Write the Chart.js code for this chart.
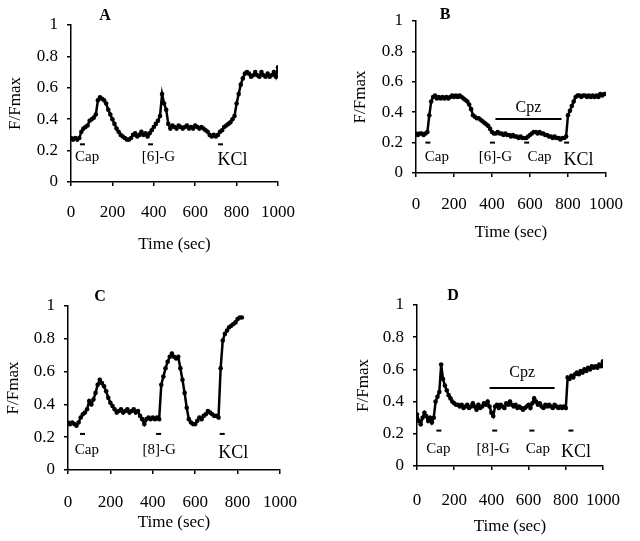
<!DOCTYPE html>
<html>
<head>
<meta charset="utf-8">
<style>
  html, body { margin: 0; padding: 0; background: #fff; }
  #wrap { position: relative; width: 640px; height: 541px; }
  canvas { position: absolute; }
</style>
</head>
<body>
<div id="wrap">
  <canvas id="chartA" width="320" height="270" style="left:0;top:0"></canvas>
  <canvas id="chartB" width="320" height="270" style="left:320px;top:0"></canvas>
  <canvas id="chartC" width="320" height="271" style="left:0;top:270px"></canvas>
  <canvas id="chartD" width="320" height="271" style="left:320px;top:270px"></canvas>
</div>

<script src="https://cdn.jsdelivr.net/npm/chart.js"></script>

<script>
  // sample times (sec), shared by all panels
  const secs = [0,10,20,30,40,50,60,70,80,90,100,110,120,130,140,150,160,170,180,190,
    200,210,220,230,240,250,260,270,280,290,300,310,320,330,340,350,360,370,380,390,
    400,410,420,430,440,450,460,470,480,490,500,510,520,530,540,550,560,570,580,590,
    600,610,620,630,640,650,660,670,680,690,700,710,720,730,740,750,760,770,780,790,
    800,810,820,830,840,850,860,870,880,890,900,910,920,930,940,950,960,970,980,990,1000];

  const xTicks = [0, 200, 400, 600, 800, 1000];
  const yTicks = ['0', '0.2', '0.4', '0.6', '0.8', '1'];

  // F/Fmax traces
  const fluoA = [0.28,0.27,0.28,0.27,0.28,0.32,0.34,0.35,0.36,0.39,0.40,0.41,0.43,0.52,0.54,0.53,0.52,0.50,0.46,0.43,
    0.40,0.37,0.34,0.32,0.30,0.29,0.28,0.27,0.27,0.28,0.30,0.31,0.29,0.30,0.32,0.30,0.31,0.29,0.31,0.33,
    0.35,0.37,0.39,0.42,0.56,0.50,0.46,0.37,0.34,0.36,0.35,0.34,0.36,0.35,0.34,0.35,0.36,0.34,0.35,0.34,
    0.36,0.35,0.34,0.35,0.34,0.33,0.32,0.30,0.29,0.30,0.29,0.30,0.32,0.33,0.35,0.36,0.37,0.38,0.40,0.42,
    0.50,0.56,0.62,0.66,0.69,0.70,0.69,0.67,0.68,0.70,0.68,0.67,0.70,0.68,0.67,0.69,0.67,0.68,0.70,0.67,0.73];

  const fluoB = [0.26,0.25,0.26,0.26,0.25,0.26,0.27,0.38,0.47,0.50,0.51,0.49,0.50,0.49,0.50,0.49,0.50,0.49,0.50,0.51,
    0.50,0.51,0.50,0.51,0.50,0.49,0.48,0.47,0.45,0.42,0.38,0.37,0.36,0.36,0.35,0.34,0.33,0.32,0.31,0.29,
    0.27,0.26,0.26,0.27,0.26,0.26,0.25,0.26,0.25,0.25,0.24,0.25,0.24,0.24,0.23,0.24,0.23,0.23,0.23,0.24,
    0.25,0.26,0.27,0.27,0.26,0.27,0.26,0.26,0.25,0.25,0.24,0.24,0.23,0.24,0.23,0.23,0.22,0.23,0.23,0.24,
    0.38,0.41,0.44,0.47,0.50,0.51,0.51,0.50,0.51,0.51,0.50,0.51,0.50,0.51,0.50,0.51,0.50,0.52,0.51,0.52,0.52];

  const fluoC = [0.29,0.28,0.29,0.28,0.27,0.29,0.32,0.34,0.35,0.37,0.42,0.40,0.43,0.47,0.52,0.55,0.53,0.51,0.48,0.44,
    0.41,0.39,0.37,0.35,0.36,0.37,0.35,0.36,0.37,0.35,0.36,0.37,0.35,0.36,0.33,0.31,0.28,0.31,0.32,0.31,
    0.32,0.31,0.32,0.31,0.52,0.57,0.62,0.66,0.69,0.71,0.69,0.68,0.69,0.62,0.55,0.47,0.38,0.31,0.29,0.28,
    0.28,0.30,0.32,0.31,0.33,0.34,0.36,0.35,0.34,0.33,0.33,0.32,0.62,0.79,0.83,0.85,0.87,0.88,0.89,0.90,
    0.92,0.93,0.93];

  const fluoD = [0.32,0.28,0.26,0.30,0.33,0.31,0.28,0.30,0.27,0.30,0.40,0.43,0.46,0.63,0.54,0.50,0.47,0.44,0.42,0.40,
    0.39,0.38,0.38,0.37,0.38,0.36,0.37,0.38,0.36,0.37,0.39,0.37,0.35,0.38,0.36,0.37,0.39,0.38,0.40,0.37,
    0.33,0.31,0.37,0.38,0.36,0.38,0.37,0.36,0.39,0.38,0.40,0.38,0.37,0.38,0.36,0.37,0.36,0.35,0.36,0.37,
    0.38,0.36,0.39,0.42,0.40,0.38,0.39,0.37,0.36,0.38,0.37,0.38,0.37,0.36,0.38,0.37,0.36,0.37,0.36,0.37,
    0.36,0.55,0.54,0.56,0.55,0.57,0.58,0.57,0.59,0.58,0.60,0.59,0.61,0.60,0.62,0.61,0.62,0.61,0.63,0.62,0.65];

  // stimulus marks: name, time of the dash, time of the label centre
  const stimNameA = ['Cap', '[6]-G', 'KCl'];
  const stimTimeA = [53, 382, 720];
  const labelTimeA = [78, 422, 780];

  const stimNameB = ['Cap', '[6]-G', 'Cap', 'KCl'];
  const stimTimeB = [60, 400, 580, 790];
  const labelTimeB = [110, 418, 650, 855];

  const stimNameC = ['Cap', '[8]-G', 'KCl'];
  const stimTimeC = [66, 425, 725];
  const labelTimeC = [89, 430, 780];

  const stimNameD = ['Cap', '[8]-G', 'Cap', 'KCl'];
  const stimTimeD = [115, 415, 615, 825];
  const labelTimeD = [115, 410, 650, 855];

  // Cpz bar: [start, end] in sec
  const cpzSpanB = [418, 766];
  const cpzSpanD = [390, 740];

  const panels = [
    { canvas: 'chartA', letter: 'A', letterAt: [105, 16], values: fluoA,
      names: stimNameA, times: stimTimeA, labelTimes: labelTimeA,
      dashLevel: 0.24, labelLevel: 0.16, cpz: null,
      pad: { left: 5, right: 42, top: 25, bottom: 15 }, yW: 66, xH: 73, xPad: 16 },
    { canvas: 'chartB', letter: 'B', letterAt: [125, 15], values: fluoB,
      names: stimNameB, times: stimTimeB, labelTimes: labelTimeB,
      dashLevel: 0.2, labelLevel: 0.105, cpz: { span: cpzSpanB, level: 0.355, textLevel: 0.43 },
      pad: { left: 30, right: 23, top: 21, bottom: 27 }, yW: 66, xH: 70, xPad: 17 },
    { canvas: 'chartC', letter: 'C', letterAt: [100, 27], values: fluoC,
      names: stimNameC, times: stimTimeC, labelTimes: labelTimeC,
      dashLevel: 0.22, labelLevel: 0.12, cpz: null,
      pad: { left: 3, right: 40, top: 36, bottom: 8 }, yW: 65, xH: 63, xPad: 18 },
    { canvas: 'chartD', letter: 'D', letterAt: [133, 26], values: fluoD,
      names: stimNameD, times: stimTimeD, labelTimes: labelTimeD,
      dashLevel: 0.22, labelLevel: 0.105, cpz: { span: cpzSpanD, level: 0.485, textLevel: 0.58 },
      pad: { left: 33, right: 23, top: 35, bottom: 4 }, yW: 64, xH: 71, xPad: 20 }
  ];

  const serif = '"Liberation Serif", "DejaVu Serif", serif';

  // draws the stimulus dashes, their labels, the Cpz bar and the panel letter
  const marksPlugin = {
    id: 'marks',
    afterDatasetsDraw(chart) {
      const p = chart.options.plugins.marks.panel;
      const xs = chart.scales.x, ys = chart.scales.y;
      const c = chart.ctx;
      c.save();
      c.fillStyle = '#000';
      c.strokeStyle = '#000';
      c.textAlign = 'center';
      c.textBaseline = 'middle';
      p.times.forEach((t, i) => {
        const x = xs.getPixelForValue(t);
        c.fillRect(x - 2, ys.getPixelForValue(p.dashLevel) - 1, 5, 2);
        const kcl = p.names[i] === 'KCl';
        c.font = (kcl ? '18px ' : '15px ') + serif;
        c.fillText(p.names[i], xs.getPixelForValue(p.labelTimes[i]),
          ys.getPixelForValue(p.labelLevel) + (kcl ? 3 : 0));
      });
      if (p.cpz) {
        const y = ys.getPixelForValue(p.cpz.level);
        c.lineWidth = 2;
        c.beginPath();
        c.moveTo(xs.getPixelForValue(p.cpz.span[0]), y);
        c.lineTo(xs.getPixelForValue(p.cpz.span[1]), y);
        c.stroke();
        c.font = '16px ' + serif;
        c.fillText('Cpz', xs.getPixelForValue((p.cpz.span[0] + p.cpz.span[1]) / 2),
          ys.getPixelForValue(p.cpz.textLevel));
      }
      c.font = 'bold 16px ' + serif;
      c.fillText(p.letter, p.letterAt[0], p.letterAt[1]);
      c.restore();
    }
  };

  panels.forEach(p => {
    const pts = p.values.map((v, i) => ({ x: secs[i], y: v }));
    new Chart(document.getElementById(p.canvas), {
      type: 'line',
      data: {
        datasets: [{
          data: pts,
          borderColor: '#000',
          backgroundColor: '#000',
          borderWidth: 2.5,
          pointRadius: 2.3,
          pointBorderWidth: 0,
          tension: 0
        }]
      },
      options: {
        responsive: false,
        animation: false,
        devicePixelRatio: 1,
        layout: { padding: p.pad },
        plugins: {
          legend: { display: false },
          tooltip: { enabled: false },
          marks: { panel: p }
        },
        scales: {
          x: {
            type: 'linear',
            min: 0,
            max: 1000,
            afterBuildTicks: s => { s.ticks = xTicks.map(v => ({ value: v })); },
            afterFit: s => { s.height = p.xH; },
            grid: { drawOnChartArea: false, drawTicks: true, tickLength: 4, color: '#000', lineWidth: 1.5 },
            border: { display: true, color: '#000', width: 1.5 },
            ticks: {
              color: '#000',
              padding: p.xPad,
              maxRotation: 0,
              font: { family: serif, size: 17 },
              callback: (v, i) => String(xTicks[i])
            },
            title: { display: true, text: 'Time (sec)', color: '#000', padding: 0, font: { family: serif, size: 17 } }
          },
          y: {
            type: 'linear',
            min: 0,
            max: 1,
            afterBuildTicks: s => { s.ticks = yTicks.map(v => ({ value: Number(v) })); },
            afterFit: s => { s.width = p.yW; },
            grid: { drawOnChartArea: false, drawTicks: true, tickLength: 4, color: '#000', lineWidth: 1.5 },
            border: { display: true, color: '#000', width: 1.5 },
            ticks: {
              color: '#000',
              padding: 9,
              font: { family: serif, size: 17 },
              callback: (v, i) => yTicks[i]
            },
            title: { display: true, text: 'F/Fmax', color: '#000', padding: 0, font: { family: serif, size: 17 } }
          }
        }
      },
      plugins: [marksPlugin]
    });
  });
</script>
</body>
</html>
